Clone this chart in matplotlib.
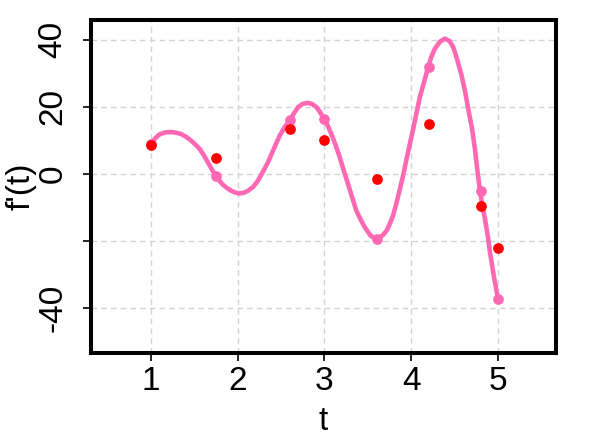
import numpy as np
import matplotlib
matplotlib.use("Agg")
import matplotlib.pyplot as plt

plt.rcParams['font.family'] = ['Liberation Sans', 'DejaVu Sans']

# observed data (red) and fitted values at the same t (pink)
t_obs = [1.0, 1.75, 2.6, 3.0, 3.6, 4.2, 4.8, 5.0]
f_obs = [8.7, 4.9, 13.5, 10.1, -1.5, 14.9, -9.5, -22.1]
f_fit = [8.9, -0.5, 16.0, 16.5, -19.4, 32.0, -5.1, -37.3]

# fitted curve
t_curve = [1.0, 1.05, 1.10, 1.17, 1.235, 1.29, 1.35, 1.41, 1.466, 1.52, 1.562, 1.61,
           1.657, 1.70, 1.746, 1.79, 1.83, 1.88, 1.927, 1.97, 2.015, 2.07, 2.119,
           2.18, 2.234, 2.29, 2.35, 2.41, 2.484, 2.54, 2.6, 2.65, 2.696, 2.75, 2.81,
           2.86, 2.908, 2.95, 2.995, 3.04, 3.08, 3.13, 3.176, 3.22, 3.272, 3.32,
           3.369, 3.42, 3.465, 3.53, 3.592, 3.64, 3.68, 3.715, 3.75, 3.79, 3.83,
           3.869, 3.91, 3.946, 3.98, 4.022, 4.06, 4.099, 4.15, 4.195, 4.23, 4.272,
           4.33, 4.388, 4.44, 4.483, 4.53, 4.58, 4.62, 4.656, 4.70, 4.733, 4.76,
           4.791, 4.82, 4.849, 4.88, 4.907, 4.95, 5.0]
f_curve = [8.9, 10.6, 11.8, 12.4, 12.5, 12.3, 11.9, 11.0, 9.9, 8.6, 7.5, 5.6,
           3.5, 1.5, -0.5, -2.0, -3.2, -4.2, -5.0, -5.5, -5.8, -5.6, -5.0,
           -3.8, -2.0, 0.6, 3.5, 7.1, 11.4, 13.9, 15.9, 18.1, 19.9, 20.9, 21.2,
           20.8, 19.9, 18.4, 16.4, 14.3, 11.9, 8.5, 5.0, 1.2, -3.0, -7.0,
           -11.0, -13.7, -15.9, -18.3, -19.4, -18.9, -18.0, -16.9, -15.0, -12.4, -8.6,
           -4.5, 0.0, 4.5, 8.5, 13.4, 18.1, 22.9, 27.6, 31.8, 34.8, 37.3,
           39.4, 40.3, 39.6, 37.8, 34.0, 29.3, 24.6, 19.4, 13.5, 7.5, 1.5,
           -5.0, -9.5, -13.4, -18.2, -23.4, -30.2, -37.3]

xticks = [1, 2, 3, 4, 5]
yticks = [-40, -20, 0, 20, 40]
ytick_labels = ['-40', '', '0', '20', '40']

pink = '#FF69B4'

fig = plt.figure(figsize=(6.02, 4.48), dpi=100)
ax = fig.add_axes([0.151, 0.212, 0.773, 0.743])

ax.grid(True, color='#D3D3D3', linestyle=(0, (4, 3)), linewidth=1.0)
ax.set_axisbelow(True)

ax.plot(t_curve, f_curve, color=pink, linewidth=3.3, solid_capstyle='round',
        solid_joinstyle='round', zorder=3)
ax.plot(t_obs, f_fit, 'o', color=pink, markersize=6.7, zorder=4)
ax.plot(t_obs, f_obs, 'o', color='#FF0000', markersize=6.7, zorder=5)

ax.set_xlim(0.31, 5.67)
ax.set_ylim(-53.3, 45.8)
ax.set_xticks(xticks)
ax.set_yticks(yticks)
ax.set_yticklabels(ytick_labels, rotation=90, va='center')

for s in ax.spines.values():
    s.set_linewidth(2.9)
ax.tick_params(axis='both', length=6, width=1.2, labelsize=24, direction='out')
ax.tick_params(axis='x', pad=3)
ax.tick_params(axis='y', pad=10)

ax.set_xlabel('t', fontsize=24, labelpad=7)
ax.set_ylabel("f'(t)", fontsize=24, labelpad=1)

fig.savefig('out.png', dpi=100)
